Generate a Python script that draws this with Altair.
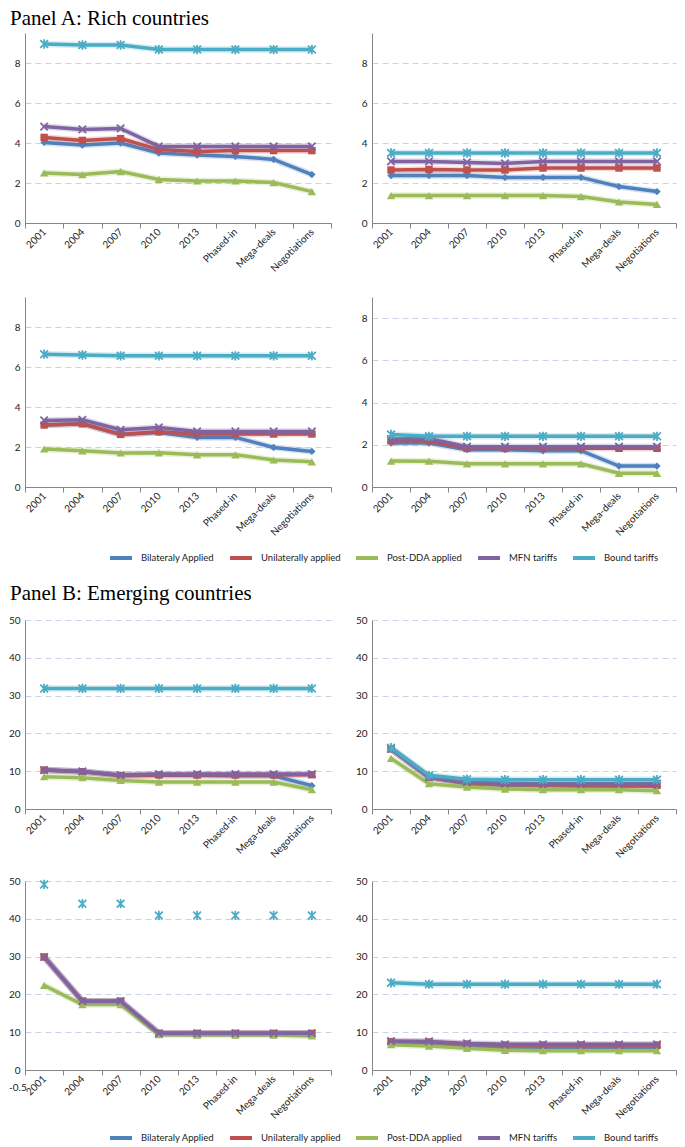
import altair as alt
import pandas as pd

categories = ["2001", "2004", "2007", "2010", "2013", "Phased-in", "Mega-deals", "Negotiations"]
series_names = ["Bilateraly Applied", "Unilaterally applied", "Post-DDA applied", "MFN tariffs", "Bound tariffs"]
series_colors = ["#4F81BD", "#C0504D", "#9BBB59", "#8064A2", "#4BACC6"]

# ---- Panel A: Rich countries ----
a1_bilateral = [4.03, 3.90, 4.00, 3.50, 3.40, 3.33, 3.18, 2.42]
a1_unilateral = [4.28, 4.13, 4.22, 3.67, 3.58, 3.62, 3.62, 3.62]
a1_postdda = [2.50, 2.42, 2.57, 2.18, 2.10, 2.10, 2.02, 1.57]
a1_mfn = [4.82, 4.68, 4.73, 3.83, 3.83, 3.83, 3.83, 3.83]
a1_bound = [8.95, 8.90, 8.90, 8.67, 8.67, 8.67, 8.67, 8.67]

a2_bilateral = [2.37, 2.37, 2.37, 2.28, 2.28, 2.28, 1.82, 1.57]
a2_unilateral = [2.65, 2.68, 2.65, 2.65, 2.75, 2.75, 2.75, 2.75]
a2_postdda = [1.37, 1.37, 1.37, 1.37, 1.37, 1.32, 1.05, 0.93]
a2_mfn = [3.08, 3.08, 3.03, 2.98, 3.08, 3.08, 3.08, 3.08]
a2_bound = [3.50, 3.50, 3.50, 3.50, 3.50, 3.50, 3.50, 3.50]

a3_bilateral = [3.10, 3.16, 2.63, 2.73, 2.48, 2.48, 1.98, 1.78]
a3_unilateral = [3.10, 3.16, 2.63, 2.76, 2.65, 2.65, 2.65, 2.65]
a3_postdda = [1.90, 1.81, 1.70, 1.71, 1.61, 1.61, 1.35, 1.26]
a3_mfn = [3.33, 3.36, 2.86, 2.98, 2.78, 2.78, 2.78, 2.78]
a3_bound = [6.64, 6.60, 6.56, 6.56, 6.56, 6.56, 6.56, 6.56]

a4_bilateral = [2.08, 2.08, 1.77, 1.77, 1.72, 1.72, 0.99, 0.99]
a4_unilateral = [2.19, 2.19, 1.83, 1.83, 1.83, 1.83, 1.83, 1.83]
a4_postdda = [1.23, 1.22, 1.10, 1.10, 1.10, 1.10, 0.65, 0.65]
a4_mfn = [2.27, 2.30, 1.91, 1.91, 1.91, 1.91, 1.91, 1.91]
a4_bound = [2.49, 2.40, 2.40, 2.40, 2.40, 2.40, 2.40, 2.40]

# ---- Panel B: Emerging countries ----
b1_bilateral = [10.3, 9.9, 8.9, 8.9, 8.9, 8.8, 8.8, 6.16]
b1_unilateral = [10.3, 9.86, 8.8, 9.0, 9.0, 9.0, 9.0, 9.07]
b1_postdda = [8.54, 8.27, 7.57, 7.13, 7.13, 7.13, 7.13, 5.10]
b1_mfn = [10.3, 9.95, 9.0, 9.25, 9.25, 9.25, 9.25, 9.25]
b1_bound = [31.9, 31.9, 31.9, 31.9, 31.9, 31.9, 31.9, 31.9]

b2_bilateral = [15.9, 8.4, 6.7, 6.25, 6.2, 6.1, 6.0, 6.0]
b2_unilateral = [15.9, 8.36, 6.87, 6.4, 6.25, 6.25, 6.25, 6.25]
b2_postdda = [13.4, 6.7, 5.8, 5.28, 5.1, 5.1, 5.1, 4.84]
b2_mfn = [15.9, 8.36, 7.13, 6.78, 6.7, 6.7, 6.7, 6.7]
b2_bound = [16.2, 8.9, 7.9, 7.75, 7.75, 7.75, 7.75, 7.75]

b3_bilateral = [29.9, 18.2, 18.2, 9.7, 9.7, 9.7, 9.7, 9.7]
b3_unilateral = [29.9, 18.2, 18.2, 9.7, 9.7, 9.7, 9.7, 9.7]
b3_postdda = [22.4, 17.3, 17.3, 9.33, 9.25, 9.25, 9.25, 9.0]
b3_mfn = [29.9, 18.2, 18.2, 9.7, 9.7, 9.7, 9.7, 9.7]
b3_bound = [49.1, 44.0, 44.0, 40.9, 40.9, 40.9, 40.9, 40.9]

b4_bilateral = [7.3, 7.2, 6.34, 5.8, 5.8, 5.8, 5.8, 5.8]
b4_unilateral = [7.48, 7.4, 6.87, 6.6, 6.6, 6.6, 6.6, 6.6]
b4_postdda = [6.7, 6.34, 5.72, 5.2, 5.1, 5.1, 5.1, 5.1]
b4_mfn = [7.66, 7.57, 7.04, 6.78, 6.78, 6.78, 6.78, 6.78]
b4_bound = [23.06, 22.7, 22.7, 22.7, 22.7, 22.7, 22.7, 22.7]

rich_ticks = [0, 2, 4, 6, 8]
emerging_ticks = [0, 10, 20, 30, 40, 50]

X_PATH = "M-1,-1L1,1M-1,1L1,-1"
STAR_PATH = "M-1,-1L1,1M-1,1L1,-1M0,-1.2L0,1.2"
marker_styles = [
    dict(shape="diamond", filled=True, size=55, strokeWidth=0.8),
    dict(shape="square", filled=True, size=55, strokeWidth=0.8),
    dict(shape="triangle-up", filled=True, size=70, strokeWidth=0.8),
    dict(shape=X_PATH, filled=False, size=55, strokeWidth=1.8),
    dict(shape=STAR_PATH, filled=False, size=60, strokeWidth=1.8),
]

LABEL_FONT = "Lato"
LW, RW = 306, 304


def make_panel(lists, ymax, ticks, width, height, bound_line=True, note=None):
    rows = []
    for s, vals in zip(series_names, lists):
        for c, v in zip(categories, vals):
            rows.append({"cat": c, "series": s, "value": v})
    df = pd.DataFrame(rows)
    base = alt.Chart(df)
    x = alt.X(
        "cat:N",
        sort=categories,
        scale=alt.Scale(type="band", domain=categories, paddingInner=0, paddingOuter=0),
        axis=alt.Axis(title=None),
        bandPosition=0.5,
    )
    y = alt.Y(
        "value:Q",
        scale=alt.Scale(domain=[0, ymax], nice=False, zero=False),
        axis=alt.Axis(title=None, values=ticks),
    )
    layers = []
    for s, col, st in zip(series_names, series_colors, marker_styles):
        sub = base.transform_filter(alt.datum.series == s)
        if not (s == "Bound tariffs" and not bound_line):
            layers.append(sub.mark_line(color=col, strokeWidth=6.5, opacity=0.22).encode(x=x, y=y))
            layers.append(sub.mark_line(color=col, strokeWidth=3.5).encode(x=x, y=y))
        layers.append(sub.mark_point(color=col, opacity=1, **st).encode(x=x, y=y))
    if note is not None:
        ndf = pd.DataFrame({"t": [note]})
        layers.append(
            alt.Chart(ndf).mark_text(align="left", baseline="middle", font=LABEL_FONT, fontSize=10, color="#222")
            .encode(text="t:N", x=alt.value(-16), y=alt.value(height + 18))
        )
    return alt.layer(*layers).properties(width=width, height=height)


def make_title(text, height, baseline_y):
    tdf = pd.DataFrame({"t": [text]})
    return alt.Chart(tdf).mark_text(
        align="left", baseline="alphabetic", font="Liberation Serif", fontSize=21, color="#000"
    ).encode(text="t:N", x=alt.value(-15), y=alt.value(baseline_y)).properties(width=LW, height=height)


def make_legend(height, ly):
    ldf = pd.DataFrame({"series": series_names})
    return alt.Chart(ldf).mark_point(opacity=0).encode(
        color=alt.Color(
            "series:N",
            sort=series_names,
            scale=alt.Scale(domain=series_names, range=series_colors),
            legend=alt.Legend(
                orient="none", legendX=83, legendY=ly, direction="horizontal", title=None,
                symbolType="stroke", symbolSize=484, symbolStrokeWidth=4, symbolOpacity=1,
                labelFont=LABEL_FONT, labelFontSize=9.5, labelColor="#222", labelOffset=7,
                columnPadding=7, padding=0,
            ),
        )
    ).properties(width=LW, height=height)


def spacer(width, height):
    sdf = pd.DataFrame({"t": [""]})
    return alt.Chart(sdf).mark_text(opacity=0).encode(text="t:N").properties(width=width, height=height)


pA1 = make_panel([a1_bilateral, a1_unilateral, a1_postdda, a1_mfn, a1_bound], 9.5, rich_ticks, LW, 190)
pA2 = make_panel([a2_bilateral, a2_unilateral, a2_postdda, a2_mfn, a2_bound], 9.5, rich_ticks, RW, 190)
pA3 = make_panel([a3_bilateral, a3_unilateral, a3_postdda, a3_mfn, a3_bound], 9.5, rich_ticks, LW, 190)
pA4 = make_panel([a4_bilateral, a4_unilateral, a4_postdda, a4_mfn, a4_bound], 9.0, rich_ticks, RW, 190)

pB1 = make_panel([b1_bilateral, b1_unilateral, b1_postdda, b1_mfn, b1_bound], 50, emerging_ticks, LW, 189)
pB2 = make_panel([b2_bilateral, b2_unilateral, b2_postdda, b2_mfn, b2_bound], 50, emerging_ticks, RW, 189)
pB3 = make_panel([b3_bilateral, b3_unilateral, b3_postdda, b3_mfn, b3_bound], 50, emerging_ticks, LW, 189,
                 bound_line=False, note="-0.5")
pB4 = make_panel([b4_bilateral, b4_unilateral, b4_postdda, b4_mfn, b4_bound], 50, emerging_ticks, RW, 189)

cells = [
    make_title("Panel A: Rich countries", 25, 17), spacer(RW, 25),
    pA1, pA2,
    spacer(LW, 74), spacer(RW, 74),
    pA3, pA4,
    make_legend(78, 58), spacer(RW, 78),
    make_title("Panel B: Emerging countries", 55, 35), spacer(RW, 55),
    pB1, pB2,
    spacer(LW, 72), spacer(RW, 72),
    pB3, pB4,
    make_legend(60, 55), spacer(RW, 60),
]

chart = alt.concat(
    *cells, columns=2, spacing={"row": 0, "column": 41}, bounds="flush"
).resolve_scale(color="independent").resolve_legend(color="independent").properties(
    padding=0
).configure_view(stroke=None).configure_axis(
    labelFont=LABEL_FONT, labelFontSize=10, labelColor="#222",
    domainColor="#868686", tickColor="#868686", domainWidth=1,
).configure_axisY(
    grid=True, gridDash=[6, 4], gridColor="#C9D3E6", gridWidth=1, ticks=False, labelPadding=5,
).configure_axisX(
    grid=False, tickBand="extent", tickSize=5, labelAngle=315, labelAlign="right",
    labelBaseline="middle", labelPadding=2,
)

chart.save("out.html", embed_options={"renderer": "svg", "actions": False})
